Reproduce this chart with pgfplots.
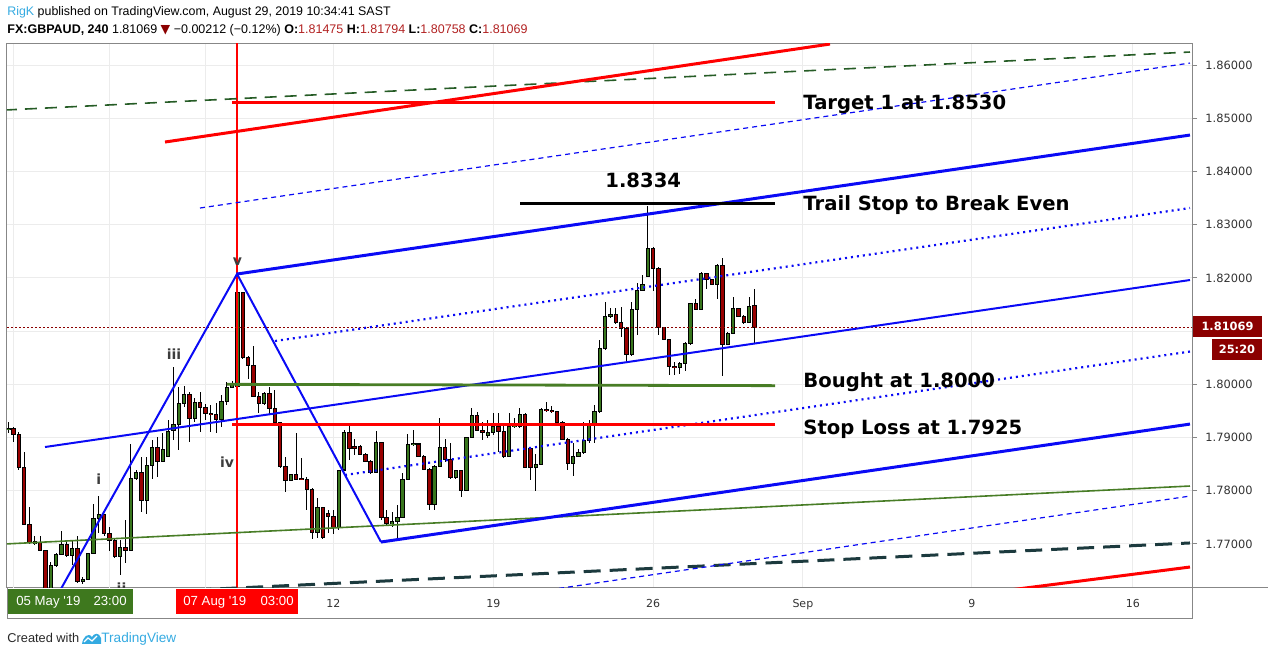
\documentclass[border=0pt]{standalone}
\usepackage{fontspec}
\usepackage{pgfplots}
\pgfplotsset{compat=1.18}
\usepackage{pgfplotstable}
\setmainfont{DejaVu Sans}
\newfontfamily\lib{Liberation Sans}
\newfontfamily\dvs{DejaVu Sans}
\definecolor{cgreen}{RGB}{56,118,29}
\definecolor{cred}{RGB}{153,0,0}
\definecolor{lnblue}{RGB}{10,10,245}
\definecolor{lngreen}{RGB}{72,125,38}
\definecolor{dkgreen}{RGB}{38,92,38}
\definecolor{dkteal}{RGB}{28,58,62}
\definecolor{lnred}{RGB}{255,0,0}
\definecolor{tvblue}{RGB}{52,170,225}
\definecolor{pricered}{RGB}{139,0,0}
\definecolor{hdrred}{RGB}{178,34,34}
\definecolor{framegray}{RGB}{135,135,135}
\definecolor{gridgray}{RGB}{236,236,236}
\definecolor{labgray}{RGB}{50,50,50}
\definecolor{boxgreen}{RGB}{62,120,30}

\pgfplotstableread{
i o h l c
0 1.7915 1.7929 1.7908 1.7917
5 1.7701 1.7716 1.7698 1.7704
8 1.7616 1.7667 1.7605 1.7660
9 1.7660 1.7683 1.7657 1.7680
10 1.7681 1.7724 1.7679 1.7699
12 1.7679 1.7707 1.7661 1.7691
14 1.7629 1.7638 1.7625 1.7634
15 1.7634 1.7683 1.7632 1.7682
16 1.7682 1.7775 1.7681 1.7748
17 1.7748 1.7790 1.7720 1.7756
21 1.7676 1.7707 1.7642 1.7693
23 1.7688 1.7888 1.7687 1.7823
24 1.7823 1.7839 1.7821 1.7835
26 1.7781 1.7863 1.7757 1.7847
27 1.7847 1.7895 1.7823 1.7882
29 1.7855 1.7908 1.7854 1.7877
30 1.7865 1.7933 1.7864 1.7912
31 1.7913 1.8033 1.7895 1.7924
32 1.7924 1.7996 1.7877 1.7964
33 1.7964 1.7996 1.7958 1.7981
35 1.7936 1.7974 1.7930 1.7966
40 1.7934 1.7980 1.7920 1.7968
41 1.7968 1.8005 1.7961 1.7994
42 1.7994 1.8007 1.7993 1.8001
43 1.7996 1.8174 1.7964 1.8172
48 1.7964 1.7986 1.7961 1.7983
53 1.7820 1.7832 1.7819 1.7831
58 1.7722 1.7786 1.7711 1.7769
62 1.7731 1.7840 1.7727 1.7839
63 1.7839 1.7914 1.7838 1.7910
69 1.7834 1.7912 1.7833 1.7891
72 1.7738 1.7761 1.7732 1.7742
73 1.7742 1.7773 1.7711 1.7750
74 1.7750 1.7833 1.7748 1.7822
75 1.7822 1.7906 1.7820 1.7887
76 1.7887 1.7914 1.7885 1.7888
80 1.7775 1.7848 1.7764 1.7845
81 1.7845 1.7936 1.7844 1.7882
84 1.7825 1.7839 1.7823 1.7838
86 1.7801 1.7901 1.7800 1.7900
87 1.7900 1.7955 1.7899 1.7942
90 1.7903 1.7933 1.7899 1.7910
91 1.7910 1.7946 1.7904 1.7920
94 1.7864 1.7946 1.7863 1.7920
95 1.7920 1.7936 1.7917 1.7923
96 1.7920 1.7955 1.7917 1.7944
99 1.7844 1.7869 1.7800 1.7850
100 1.7850 1.7955 1.7849 1.7953
106 1.7852 1.7889 1.7828 1.7865
107 1.7865 1.7879 1.7864 1.7872
108 1.7872 1.7930 1.7870 1.7895
109 1.7895 1.7933 1.7889 1.7922
110 1.7922 1.7961 1.7889 1.7949
111 1.7949 1.8083 1.7946 1.8068
112 1.8068 1.8155 1.8064 1.8128
113 1.8128 1.8143 1.8124 1.8132
117 1.8056 1.8155 1.8053 1.8140
118 1.8140 1.8190 1.8093 1.8177
119 1.8177 1.8205 1.8175 1.8188
120 1.8202 1.8336 1.8201 1.8256
126 1.8032 1.8042 1.8019 1.8039
127 1.8039 1.8080 1.8025 1.8076
128 1.8076 1.8153 1.8074 1.8152
130 1.8141 1.8211 1.8140 1.8209
133 1.8188 1.8227 1.8160 1.8223
135 1.8075 1.8099 1.8073 1.8096
136 1.8096 1.8164 1.8095 1.8143
139 1.8117 1.8164 1.8116 1.8147
}\upc

\pgfplotstableread{
i o h l c
1 1.7917 1.7920 1.7892 1.7906
2 1.7906 1.7910 1.7839 1.7843
3 1.7844 1.7872 1.7736 1.7737
4 1.7737 1.7770 1.7701 1.7703
6 1.7703 1.7716 1.7687 1.7687
7 1.7687 1.7689 1.7605 1.7615
11 1.7699 1.7704 1.7675 1.7679
13 1.7691 1.7716 1.7627 1.7629
18 1.7756 1.7757 1.7716 1.7719
19 1.7719 1.7732 1.7686 1.7707
20 1.7707 1.7709 1.7673 1.7676
22 1.7693 1.7745 1.7664 1.7688
25 1.7835 1.7864 1.7761 1.7781
28 1.7882 1.7902 1.7826 1.7855
34 1.7981 1.7986 1.7892 1.7936
36 1.7966 1.7986 1.7911 1.7957
37 1.7957 1.7963 1.7933 1.7946
38 1.7946 1.7961 1.7911 1.7943
39 1.7944 1.7964 1.7908 1.7934
44 1.8172 1.8174 1.8047 1.8051
45 1.8051 1.8053 1.8011 1.8036
46 1.8036 1.8072 1.7977 1.7978
47 1.7978 1.7986 1.7946 1.7964
49 1.7983 1.7996 1.7942 1.7955
50 1.7955 1.7989 1.7927 1.7928
51 1.7928 1.7930 1.7842 1.7845
52 1.7845 1.7864 1.7798 1.7820
54 1.7831 1.7908 1.7820 1.7822
55 1.7823 1.7861 1.7821 1.7822
56 1.7822 1.7826 1.7764 1.7803
57 1.7803 1.7806 1.7710 1.7722
59 1.7769 1.7770 1.7710 1.7712
60 1.7757 1.7764 1.7720 1.7752
61 1.7752 1.7764 1.7719 1.7731
64 1.7910 1.7927 1.7858 1.7880
65 1.7883 1.7897 1.7868 1.7880
66 1.7883 1.7886 1.7868 1.7869
67 1.7869 1.7872 1.7854 1.7855
68 1.7855 1.7857 1.7832 1.7834
70 1.7891 1.7892 1.7746 1.7750
71 1.7750 1.7763 1.7733 1.7739
77 1.7888 1.7888 1.7864 1.7865
78 1.7865 1.7867 1.7839 1.7840
79 1.7840 1.7842 1.7764 1.7775
82 1.7882 1.7897 1.7854 1.7858
83 1.7858 1.7889 1.7823 1.7825
85 1.7838 1.7839 1.7788 1.7801
88 1.7942 1.7948 1.7914 1.7914
89 1.7914 1.7930 1.7895 1.7910
92 1.7920 1.7946 1.7873 1.7911
93 1.7911 1.7927 1.7861 1.7864
97 1.7944 1.7947 1.7843 1.7844
98 1.7879 1.7881 1.7820 1.7844
101 1.7953 1.7966 1.7948 1.7951
102 1.7951 1.7959 1.7946 1.7949
103 1.7949 1.7950 1.7926 1.7928
104 1.7928 1.7931 1.7895 1.7897
105 1.7897 1.7899 1.7839 1.7852
114 1.8132 1.8143 1.8114 1.8116
115 1.8116 1.8146 1.8089 1.8105
116 1.8105 1.8108 1.8044 1.8056
121 1.8256 1.8258 1.8176 1.8218
122 1.8218 1.8221 1.8093 1.8107
123 1.8107 1.8108 1.8084 1.8085
124 1.8085 1.8086 1.8018 1.8033
125 1.8034 1.8042 1.8018 1.8032
129 1.8152 1.8160 1.8139 1.8141
131 1.8209 1.8210 1.8180 1.8197
132 1.8197 1.8198 1.8186 1.8188
134 1.8223 1.8237 1.8016 1.8075
137 1.8143 1.8144 1.8127 1.8128
138 1.8128 1.8130 1.8113 1.8117
140 1.81475 1.81794 1.80758 1.81069
}\dnc

\pgfplotsset{
  candlebase/.style={forget plot, draw=none, mark=none, mark size=0pt,
    error bars/y dir=both, error bars/y explicit, error bars/error mark=none},
  wick/.style={candlebase, error bars/error bar style={draw=black, solid, line width=0.5pt}},
  bodyout/.style={candlebase, error bars/error bar style={draw=black, solid, line width=2.2pt}},
  bodyin/.style={candlebase, error bars/error bar style={draw=#1, solid, line width=1.2pt}},
}

\begin{document}
\begin{tikzpicture}
\path[use as bounding box] (0,0) rectangle (634pt,-328pt);
\begin{axis}[at={(3.5pt,-22pt)}, anchor=north west,
  width=592.5pt, height=272pt, scale only axis,
  xmin=-0.244, xmax=222.12, ymin=1.76173, ymax=1.86395,
  axis line style={draw=framegray, line width=0.5pt},
  grid=major, major grid style={draw=gridgray, line width=0.5pt},
  xtick={61,91,121,149.1,180.8,211},
  xticklabels={12,19,26,Sep,9,16},
  extra x ticks={1,19,37}, extra x tick labels={},
  extra x tick style={grid=major, major tick length=0pt},
  ytick={1.77,1.78,1.79,1.80,1.82,1.83,1.84,1.85,1.86},
  extra y ticks={1.81}, extra y tick labels={},
  extra y tick style={grid=major},
  yticklabel pos=right, ytick pos=right, xtick pos=bottom,
  tick align=outside, major tick length=2.5pt,
  xtick style={draw=none}, ytick style={draw=framegray, line width=0.5pt},
  yticklabel={\pgfmathprintnumber[fixed,fixed zerofill,precision=5,assume math mode=true]{\tick}},
  yticklabel style={font=\dvs\fontsize{5.7pt}{6pt}\selectfont, text=labgray, anchor=west, inner sep=0pt, xshift=4pt},
  xticklabel style={font=\dvs\fontsize{5.5pt}{6pt}\selectfont, text=labgray, anchor=base, inner sep=0pt, yshift=-7.5pt},
]
% wicks
\addplot[wick] table[x=i, y expr={(\thisrow{h}+\thisrow{l})/2}, y error expr={(\thisrow{h}-\thisrow{l})/2}] {\upc};
\addplot[wick] table[x=i, y expr={(\thisrow{h}+\thisrow{l})/2}, y error expr={(\thisrow{h}-\thisrow{l})/2}] {\dnc};
% bodies
\addplot[bodyout] table[x=i, y expr={(\thisrow{o}+\thisrow{c})/2}, y error expr={abs(\thisrow{c}-\thisrow{o})/2+0.0001}] {\upc};
\addplot[bodyout] table[x=i, y expr={(\thisrow{o}+\thisrow{c})/2}, y error expr={abs(\thisrow{c}-\thisrow{o})/2+0.0001}] {\dnc};
\addplot[bodyin=cgreen] table[x=i, y expr={(\thisrow{o}+\thisrow{c})/2}, y error expr={max(abs(\thisrow{c}-\thisrow{o})/2-0.0001,0.00001)}] {\upc};
\addplot[bodyin=cred] table[x=i, y expr={(\thisrow{o}+\thisrow{c})/2}, y error expr={max(abs(\thisrow{c}-\thisrow{o})/2-0.0001,0.00001)}] {\dnc};
% last price line
\addplot[pricered, line width=0.5pt, dash pattern=on 1pt off 1pt] coordinates {(-1,1.81069) (223,1.81069)};
% red vertical
\addplot[draw=lnred, line width=0.7pt] coordinates {(42.92,1.75) (42.92,1.87)};
% drawings
\addplot[dkgreen, line width=0.8pt, dash pattern=on 6pt off 4pt] coordinates {(-0.62,1.85154) (221.74,1.86244)};
\addplot[dkteal, line width=1.5pt, dash pattern=on 8.5pt off 4.5pt] coordinates {(30,1.76112) (221.74,1.77019)};
\addplot[lngreen, line width=0.8pt] coordinates {(-0.62,1.7700) (221.74,1.78089)};
\addplot[lnred, line width=1.5pt] coordinates {(29.40,1.84553) (154.19,1.86394)};
\addplot[lnred, line width=1.5pt] coordinates {(180,1.76034) (221.74,1.76567)};
\addplot[lnblue, line width=0.6pt, dash pattern=on 2.5pt off 2pt] coordinates {(35.97,1.83313) (221.74,1.86037)};
\addplot[lnblue, line width=0.6pt, dash pattern=on 2.5pt off 2pt] coordinates {(100,1.76116) (221.74,1.7790)};
\addplot[lnblue, line width=1.5pt] coordinates {(42.92,1.82073) (221.74,1.84684)};
\addplot[lnblue, line width=1.5pt] coordinates {(69.94,1.77037) (221.74,1.79253)};
\addplot[lnblue, line width=1pt] coordinates {(6.89,1.78822) (221.74,1.81960)};
\addplot[lnblue, line width=1.1pt, dash pattern=on 1pt off 2pt] coordinates {(50.05,1.80814) (221.74,1.83313)};
\addplot[lnblue, line width=1.1pt, dash pattern=on 1pt off 2pt] coordinates {(63.18,1.78296) (221.74,1.80616)};
\addplot[lnblue, line width=1pt] coordinates {(9.7,1.76124) (42.92,1.82073) (69.94,1.77037)};
\addplot[lnred, line width=1.4pt] coordinates {(41.98,1.8530) (143.87,1.8530)};
\addplot[black, line width=1.4pt] coordinates {(96.02,1.8340) (143.87,1.8340)};
\addplot[lngreen, line width=1.4pt] coordinates {(41,1.8000) (143.87,1.79975)};
\addplot[lnred, line width=1.4pt] coordinates {(42,1.7925) (143.87,1.7925)};
\end{axis}
\begin{scope}[x=0.5pt,y=-0.5pt]
% frame extensions
\draw[framegray, line width=0.5pt] (7,588) -- (7,619) -- (1192,619) -- (1192,588);
\draw[framegray, line width=0.5pt] (1192,588) -- (1268,588);
% annotations
\tikzset{ann/.style={anchor=base west, inner sep=0pt, font=\dvs\bfseries\fontsize{9.8pt}{10pt}\selectfont}}
\node[ann] at (803,110) {Target 1 at 1.8530};
\node[ann] at (605,188) {1.8334};
\node[ann] at (803,211) {Trail Stop to Break Even};
\node[ann] at (803,387.5) {Bought at 1.8000};
\node[ann] at (803,434.5) {Stop Loss at 1.7925};
\tikzset{wave/.style={anchor=base, inner sep=0pt, text={rgb,255:red,60;green,60;blue,60}, font=\dvs\bfseries\fontsize{7pt}{8pt}\selectfont}}
\node[wave] at (237.5,265.5) {v};
\node[wave] at (174,360) {iii};
\node[wave] at (227,467.5) {iv};
\node[wave] at (98.7,485) {i};
\begin{scope}
\clip (7,44) rectangle (1192,588);
\node[wave] at (121.5,594) {ii};
\end{scope}
% header
\node[anchor=base west, inner sep=0pt, font=\lib\fontsize{6.2pt}{7pt}\selectfont] at (7,16)
  {{\color{tvblue}RigK} published on TradingView.com, August 29, 2019 10:34:41 SAST};
\node[anchor=base west, inner sep=0pt, font=\lib\fontsize{6.25pt}{7pt}\selectfont] at (7,34)
  {\textbf{FX:GBPAUD, 240} 1.81069 {\dvs\color{pricered}▼} −0.00212 (−0.12\%) \textbf{O:}{\color{hdrred}1.81475} \textbf{H:}{\color{hdrred}1.81794} \textbf{L:}{\color{hdrred}1.80758} \textbf{C:}{\color{hdrred}1.81069}};
% price boxes
\fill[pricered] (1193,316) rectangle (1262,337);
\node[text=white, inner sep=0pt, font=\dvs\bfseries\fontsize{5.7pt}{6pt}\selectfont] at (1227.5,326.5) {1.81069};
\fill[pricered] (1212,339) rectangle (1262,360);
\node[text=white, inner sep=0pt, font=\dvs\bfseries\fontsize{5.7pt}{6pt}\selectfont] at (1237,349.5) {25:20};
% date boxes
\fill[boxgreen] (8,588.6) rectangle (133,614);
\node[anchor=base west, text=white, inner sep=0pt, font=\lib\fontsize{6.6pt}{7pt}\selectfont] at (16,605.5) {05 May '19};
\node[anchor=base east, text=white, inner sep=0pt, font=\lib\fontsize{6.6pt}{7pt}\selectfont] at (127,605.5) {23:00};
\fill[lnred] (176,588.6) rectangle (298,614);
\node[anchor=base west, text=white, inner sep=0pt, font=\lib\fontsize{6.6pt}{7pt}\selectfont] at (183,605.5) {07 Aug '19};
\node[anchor=base east, text=white, inner sep=0pt, font=\lib\fontsize{6.6pt}{7pt}\selectfont] at (294,605.5) {03:00};
% footer
\node[anchor=base west, inner sep=0pt, text={rgb,255:red,40;green,40;blue,40}, font=\lib\fontsize{6.4pt}{7pt}\selectfont] at (7,643) {Created with};
\fill[tvblue] (82,644) .. controls (83,637) and (88,632) .. (92,637) .. controls (94,633) and (99,632) .. (101,638) -- (101,644) -- cycle;
\draw[white, line width=0.6pt] (84,642) -- (88,638) -- (92,641) -- (97,636);
\node[anchor=base west, inner sep=0pt, text=tvblue, font=\lib\fontsize{6.8pt}{7pt}\selectfont] at (101,643) {TradingView};
\end{scope}
\end{tikzpicture}
\end{document}
